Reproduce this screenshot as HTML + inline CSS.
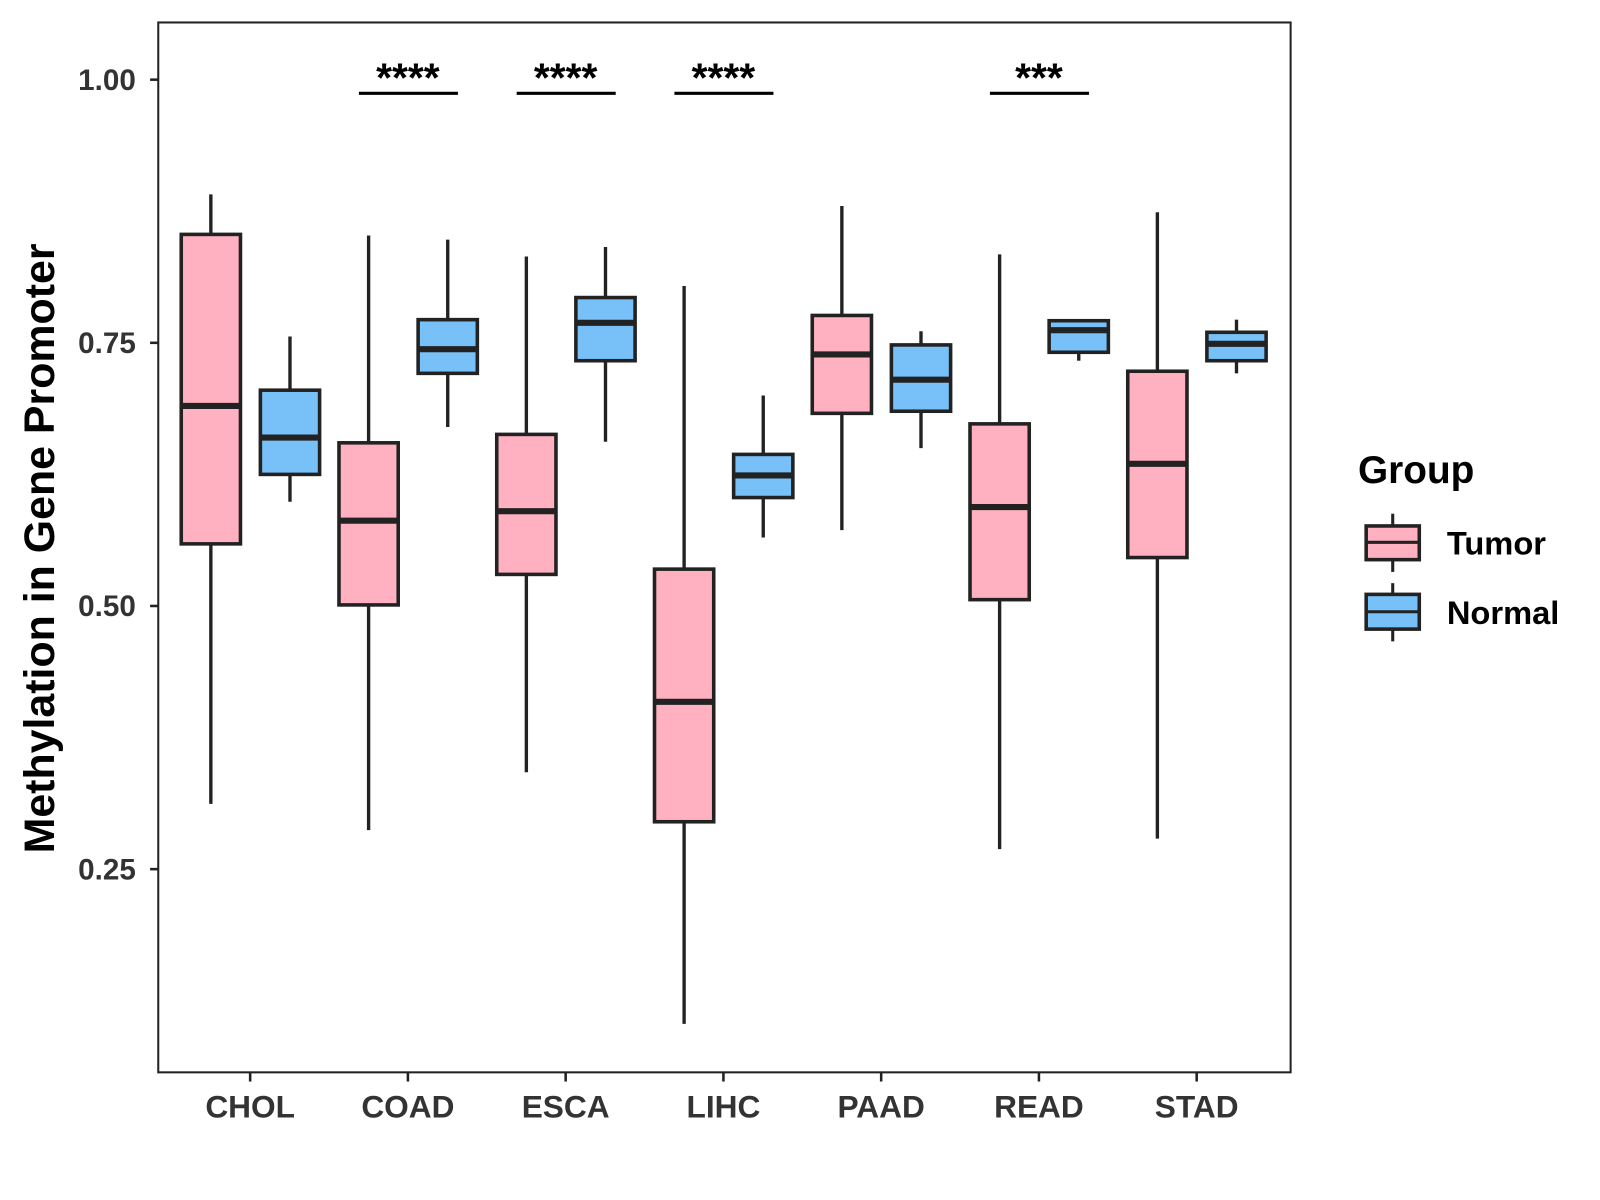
<!DOCTYPE html>
<html><head><meta charset="utf-8"><style>html,body{margin:0;padding:0;background:#fff}svg{display:block}text{font-family:"Liberation Sans",sans-serif;font-weight:bold}</style></head>
<body>
<svg id="chart" width="1600" height="1200" viewBox="0 0 1567 1175" preserveAspectRatio="none" xmlns="http://www.w3.org/2000/svg">
<rect x="155" y="22" width="1109" height="1028" fill="#fff" stroke="#222" stroke-width="2"/>
<g id="marks"></g>
<text transform="translate(53,537) rotate(-90)" text-anchor="middle" font-size="42" fill="#000">Methylation in Gene Promoter</text>
<g>
<text x="1330" y="473" font-size="38" fill="#000">Group</text>
<g>
<line x1="1364" y1="503" x2="1364" y2="560" stroke="#222" stroke-width="3"/>
<rect x="1338" y="515" width="52" height="33" fill="#FFB0C1" stroke="#222" stroke-width="3.5"/>
<line x1="1338" y1="531" x2="1390" y2="531" stroke="#222" stroke-width="3"/>
<text x="1417" y="543" font-size="32" fill="#000">Tumor</text></g>
<g>
<line x1="1364" y1="571" x2="1364" y2="628" stroke="#222" stroke-width="3"/>
<rect x="1338" y="582" width="52" height="34" fill="#77C1F8" stroke="#222" stroke-width="3.5"/>
<line x1="1338" y1="599" x2="1390" y2="599" stroke="#222" stroke-width="3"/>
<text x="1417" y="611" font-size="32" fill="#000">Normal</text></g>
</g>
</svg>
<script>
const categories = ["CHOL","COAD","ESCA","LIHC","PAAD","READ","STAD"];
// [lowWhisker, Q1, median, Q3, highWhisker]
const tumorStats = [
 [0.312,0.559,0.690,0.853,0.891],
 [0.287,0.501,0.581,0.655,0.852],
 [0.342,0.530,0.590,0.663,0.832],
 [0.103,0.295,0.409,0.535,0.804],
 [0.572,0.683,0.739,0.776,0.880],
 [0.269,0.506,0.594,0.673,0.834],
 [0.279,0.546,0.635,0.723,0.874]];
const normalStats = [
 [0.599,0.625,0.660,0.705,0.756],
 [0.670,0.721,0.744,0.772,0.848],
 [0.656,0.733,0.769,0.793,0.841],
 [0.565,0.603,0.624,0.644,0.700],
 [0.650,0.685,0.715,0.748,0.761],
 [0.733,0.741,0.762,0.771,0.771],
 [0.721,0.733,0.749,0.760,0.772]];
const yTicks = [0.25,0.50,0.75,1.00];
const yTickLabels = ["0.25","0.50","0.75","1.00"];
const sigCategories = ["COAD","ESCA","LIHC","READ"];
const sigLabels = ["****","****","****","***"];
const sigLevel = 0.987;

const NS="http://www.w3.org/2000/svg";
const g=document.getElementById('marks');
const y=v=>78+(1-v)*1030.7;
const x=i=>245+i*154.5;
function mk(t,a){const e=document.createElementNS(NS,t);for(const k in a)e.setAttribute(k,a[k]);g.appendChild(e);return e;}
yTicks.forEach((v,i)=>{
 const t=mk('line',{x1:147,x2:155,y1:y(v),y2:y(v),stroke:'#222','stroke-width':2.5});
 
 
 const l=mk('text',{x:133,y:y(v)+10,'text-anchor':'end','font-size':29,fill:'#333'});
 l.textContent=yTickLabels[i];
 
 
});
categories.forEach((c,i)=>{
 const t=mk('line',{x1:x(i),x2:x(i),y1:1050,y2:1059,stroke:'#222','stroke-width':2.5});
 
 
 const l=mk('text',{x:x(i),y:1094,'text-anchor':'middle','font-size':31,fill:'#333'});
 l.textContent=c;
 
 
});
function box(cx,s,fill,name){
 const w=58;
 const wh=mk('line',{x1:cx,x2:cx,y1:y(s[0]),y2:y(s[4]),stroke:'#222','stroke-width':3.3});
 
 
 const r=mk('rect',{x:cx-w/2,y:y(s[3]),width:w,height:y(s[1])-y(s[3]),fill:fill,stroke:'#222','stroke-width':3.5});
 
 
 const m=mk('line',{x1:cx-w/2,x2:cx+w/2,y1:y(s[2]),y2:y(s[2]),stroke:'#222','stroke-width':6});
 
 
}
categories.forEach((c,i)=>{
 box(x(i)-38.5,tumorStats[i],'#FFB0C1',c.toLowerCase()+'-tumor');
 box(x(i)+39,normalStats[i],'#77C1F8',c.toLowerCase()+'-normal');
});
sigCategories.forEach((c,k)=>{
 const i=categories.indexOf(c);
 const b=mk('line',{x1:x(i)-48,x2:x(i)+49,y1:y(sigLevel),y2:y(sigLevel),stroke:'#000','stroke-width':3});
 
 
 const t=mk('text',{x:x(i),y:y(sigLevel)-2,'text-anchor':'middle','font-size':40,fill:'#000'});
 t.textContent=sigLabels[k];
 
 
});
</script>
</body></html>
